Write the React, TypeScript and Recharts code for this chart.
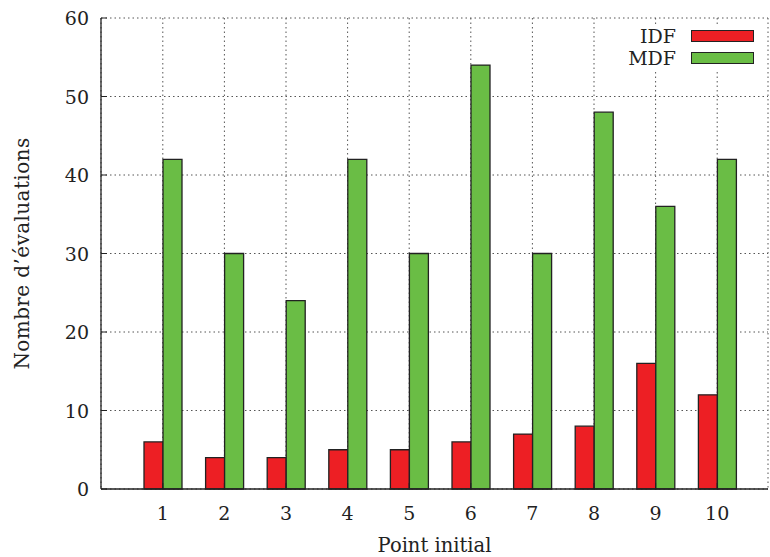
import { Bar, BarChart, CartesianGrid, XAxis, YAxis } from "recharts";

const categories = ["1", "2", "3", "4", "5", "6", "7", "8", "9", "10"];
const idf = [6, 4, 4, 5, 5, 6, 7, 8, 16, 12];
const mdf = [42, 30, 24, 42, 30, 54, 30, 48, 36, 42];
const yTicks = [0, 10, 20, 30, 40, 50, 60];

const data = categories.map((c, i) => ({ point: c, IDF: idf[i], MDF: mdf[i] }));

const W = 770;
const H = 557;
const LEFT = 101;
const RIGHT = 768;
const TOP = 18;
const BOTTOM = 489;
const FONT = "'DejaVu Serif', 'Liberation Serif', serif";
const FS = 19;
const RED = "#ed1f24";
const GREEN = "#6abd45";

function LegendBox() {
  const items = [
    { name: "IDF", color: RED },
    { name: "MDF", color: GREEN },
  ];
  return (
    <div
      style={{
        position: "absolute",
        left: 612,
        top: 25,
        width: 150,
        boxSizing: "border-box",
        background: "#fff",
        padding: "0 8px 0 0",
        fontFamily: FONT,
        fontSize: FS,
        lineHeight: "22px",
        color: "#222",
      }}
    >
      {items.map((it) => (
        <div key={it.name} style={{ display: "flex", alignItems: "center", justifyContent: "flex-end", height: 22 }}>
          <span style={{ marginRight: 15 }}>{it.name}</span>
          <span style={{ width: 61, height: 10, background: it.color, border: "1px solid #222" }} />
        </div>
      ))}
    </div>
  );
}

export default function App() {
  return (
    <div style={{ position: "absolute", left: 0, top: 0, width: W, height: H, background: "#fff" }}>
      <BarChart width={W} height={H} data={data} margin={{ top: TOP, right: W - RIGHT, bottom: 8, left: 41 }} barGap={0} barSize={19}>
        <CartesianGrid stroke="#555" strokeDasharray="1.5 3" />
        <XAxis
          dataKey="point"
          height={60}
          padding={{ left: 31, right: 20 }}
          axisLine={{ stroke: "#222", strokeWidth: 1.3 }}
          tickLine={false}
          tick={(p: any) => (
            <g>
              <line x1={p.x} x2={p.x} y1={BOTTOM} y2={BOTTOM - 6} stroke="#222" />
              <text x={p.x} y={BOTTOM + 31} textAnchor="middle" fontFamily={FONT} fontSize={FS} fill="#222">
                {p.payload.value}
              </text>
            </g>
          )}
          label={() => (
            <text x={(LEFT + RIGHT) / 2} y={H - 5} textAnchor="middle" fontFamily={FONT} fontSize={FS + 0.5} fill="#222">
              Point initial
            </text>
          )}
        />
        <XAxis
          xAxisId="top"
          dataKey="point"
          orientation="top"
          height={0}
          padding={{ left: 31, right: 20 }}
          axisLine={{ stroke: "#222", strokeWidth: 1.3 }}
          tickLine={false}
          tick={(p: any) => <line x1={p.x} x2={p.x} y1={TOP} y2={TOP + 6} stroke="#222" />}
        />
        <YAxis
          width={60}
          domain={[0, 60]}
          ticks={yTicks}
          interval={0}
          axisLine={{ stroke: "#222", strokeWidth: 1.3 }}
          tickLine={false}
          tick={(p: any) => (
            <g>
              <line x1={LEFT} x2={LEFT + 6} y1={p.y} y2={p.y} stroke="#222" />
              <text x={LEFT - 12} y={p.y + 7} textAnchor="end" fontFamily={FONT} fontSize={FS} fill="#222">
                {p.payload.value}
              </text>
            </g>
          )}
          label={() => (
            <text
              x={22}
              y={(TOP + BOTTOM) / 2}
              transform={`rotate(-90 22 ${(TOP + BOTTOM) / 2})`}
              textAnchor="middle"
              dominantBaseline="central"
              fontFamily={FONT}
              fontSize={20}
              letterSpacing={0.4}
              fill="#222"
            >
              Nombre d’évaluations
            </text>
          )}
        />
        <YAxis
          yAxisId="right"
          orientation="right"
          width={0}
          domain={[0, 60]}
          ticks={yTicks}
          interval={0}
          axisLine={{ stroke: "#222", strokeWidth: 1.3 }}
          tickLine={false}
          tick={(p: any) => <line x1={RIGHT} x2={RIGHT - 6} y1={p.y} y2={p.y} stroke="#222" />}
        />
        <Bar dataKey="IDF" fill={RED} stroke="#222" strokeWidth={1.3} isAnimationActive={false} />
        <Bar dataKey="MDF" fill={GREEN} stroke="#222" strokeWidth={1.3} isAnimationActive={false} />
      </BarChart>
      <LegendBox />
    </div>
  );
}
